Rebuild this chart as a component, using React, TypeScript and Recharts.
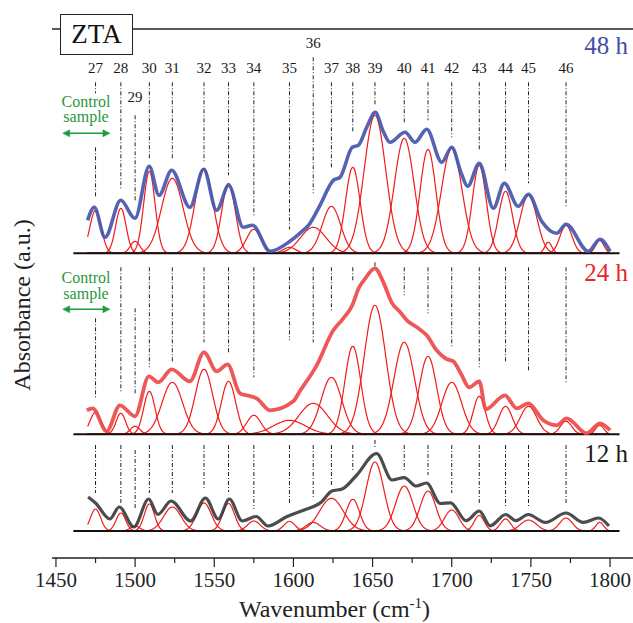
import React from "react";
import { ComposedChart, Line, XAxis, YAxis, ReferenceLine, ReferenceDot } from "recharts";

const SERIF = "Liberation Serif, Tinos, DejaVu Serif, serif";

// labelled amide bands (cm-1)
const BAND_LABELS = ["27", "28", "29", "30", "31", "32", "33", "34", "35", "36", "37", "38", "39", "40", "41", "42", "43", "44", "45", "46"];
const BAND_WN = [1475, 1491, 1500, 1509, 1523.5, 1543.5, 1559, 1575, 1597.5, 1612.5, 1624, 1637.5, 1651.5, 1670, 1685, 1700, 1717.4, 1734, 1748.5, 1772.2];
// weak unlabelled bands that are still part of the fit
const EXTRA_WN = [1761, 1793.5];

// gaussian components: amplitude (a.u.) and sigma (cm-1), order = BAND_WN + EXTRA_WN
const AMP_48H = [43, 45, 12, 82, 75, 85, 70, 24, 6, 26, 47, 86, 138, 115, 104, 105, 88, 62, 58, 28, 11, 13];
const SIG_48H = [3.6, 3.3, 3.0, 3.6, 6.8, 5.6, 4.3, 4.6, 4.0, 8.0, 5.8, 4.6, 6.8, 6.2, 5.0, 6.5, 4.4, 4.4, 5.3, 3.8, 2.2, 2.6];
const AMP_24H = [22, 21, 8, 43, 52, 65, 53, 19, 14, 31, 57, 88, 129, 92, 78, 52, 38, 28, 28, 13, 0, 9];
const SIG_24H = [3.5, 3.0, 3.0, 3.6, 6.5, 5.5, 4.5, 4.5, 10, 9, 6.5, 5.0, 6.8, 6.5, 5.5, 6.2, 3.8, 4.2, 5.2, 3.6, 2, 2.6];
const AMP_12H = [22, 18, 5, 27, 24, 28, 27.5, 10, 9.6, 8.6, 32.7, 31.7, 69, 45, 40, 21, 15.5, 12, 11, 13, 0, 8.6];
const SIG_12H = [3.2, 3.0, 3.0, 3.2, 5.5, 4.6, 3.8, 4.0, 3.5, 4.5, 7.5, 4.2, 5.6, 5.5, 5.0, 4.6, 3.2, 3.2, 5.0, 4.0, 2, 2.5];

// measured spectra [wavenumber, absorbance a.u.]
const SPEC_48H: [number, number][] = [
  [1470, 33], [1474.2, 46], [1481, 16], [1490.9, 53], [1499.9, 35], [1508.9, 87], [1515.1, 58], [1523.1, 83],
  [1534.6, 46], [1543.3, 84], [1551.5, 43], [1559.1, 68], [1568.3, 26], [1574.2, 28], [1585.2, 2], [1597.8, 12],
  [1604, 20], [1610, 29], [1616.8, 48], [1625.2, 73], [1629.4, 76], [1637.2, 106], [1641, 108], [1646.3, 126],
  [1651.7, 141], [1656.7, 122], [1661, 111], [1670.5, 121], [1676.8, 111], [1684.2, 124], [1693.7, 91], [1700, 106],
  [1706, 80], [1710, 67], [1717.4, 90], [1726.3, 45], [1733.2, 70], [1742, 47], [1748.4, 59], [1756.8, 32],
  [1766.3, 20], [1772.2, 29], [1786.3, 2], [1793.6, 14], [1800, 2],
];
const SPEC_24H: [number, number][] = [
  [1469.5, 24], [1473.2, 26], [1482, 3], [1490.4, 29], [1499.9, 18], [1508.7, 58], [1514.6, 52], [1523.1, 65],
  [1534.6, 53], [1543.5, 82], [1551.5, 63], [1558.4, 70], [1566.2, 41], [1570.4, 39], [1576.8, 36], [1585.2, 24],
  [1599.9, 33], [1604, 43], [1614.7, 69], [1625.2, 104], [1631, 115], [1637.2, 129], [1641.2, 146], [1645.4, 156],
  [1651.5, 166], [1656.8, 152], [1662, 132], [1667.5, 122], [1671.7, 114], [1678, 107], [1684.2, 99], [1690.5, 84],
  [1697, 75], [1701, 73], [1706, 60], [1711, 47], [1717.4, 53], [1721.5, 25], [1733.6, 39], [1741, 26],
  [1748.4, 31], [1757.8, 14], [1766.3, 9], [1772.6, 16], [1785.2, 1], [1793.6, 11], [1800, 4],
];
const SPEC_12H: [number, number][] = [
  [1470.3, 34], [1475.3, 27.5], [1484, 12], [1490, 24], [1499.2, 4], [1508.6, 32], [1514.4, 16.5], [1522.7, 30],
  [1535.1, 10], [1544.4, 33], [1552.5, 12], [1559.5, 32], [1567.7, 10], [1576.4, 14.5], [1584, 5], [1596, 14.5],
  [1606.8, 21], [1617.7, 29], [1624.3, 40], [1630.8, 42], [1639.5, 55], [1652.5, 77.5], [1662.3, 51], [1670, 53.4],
  [1677.5, 45], [1684.1, 48], [1692.8, 27.5], [1699.3, 28.2], [1709.1, 10.3], [1717.4, 20], [1724.3, 5.2], [1734.1, 16.5],
  [1740.6, 10.3], [1748.3, 16.5], [1759.2, 8.6], [1772.2, 18], [1783.1, 8.6], [1792.8, 13], [1799.3, 5],
];

const X_TICKS = [1450, 1475, 1500, 1525, 1550, 1575, 1600, 1625, 1650, 1675, 1700, 1725, 1750, 1775, 1800];

// ---- layout (y in a.u. above the bottom axis) ----
const X_DOMAIN: [number, number] = [1447.5, 1814.5];
const Y_MAX = 529;
const BASE_48 = 304.7;
const BASE_24 = 123.7;
const BASE_12 = 27;

// dash-dot guide lines: top / lower end above each panel baseline
const topFor = (dflt: number, over: Record<string, number>) => BAND_LABELS.map((l) => over[l] ?? dflt);
const GUIDE_TOP_48 = topFor(171, { "29": 138, "36": 196 });
const GUIDE_END_48 = [56, 65, 51, 95, 95, 90, 78, 36, 24, 60, 86, 121, 147, 131, 133, 116, 103, 83, 70, 45];
const GUIDE_TOP_24 = topFor(167, { "27": 116, "29": 126, "39": 172 });
const GUIDE_END_24 = [37, 42, 39, 67, 72, 92, 82, 57, 94, 92, 122, 152, 167, 139, 121, 87, 67, 72, 62, 51];
const GUIDE_TOP_12 = topFor(86, { "29": 81, "39": 91 });
const GUIDE_END_12 = [38, 28, 22, 38, 38, 41, 39, 22, 28, 34, 46, 61, 83, 59, 56, 38, 28, 23, 23, 26];
const LABEL_H = topFor(185, { "29": 156, "36": 210 });

const PANELS = [
  { key: "h48", base: BASE_48, amp: AMP_48H, sig: SIG_48H, spec: SPEC_48H, top: GUIDE_TOP_48, end: GUIDE_END_48,
    color: "#4756ad", lw: 3.6, name: "48 h", nameH: 208, ctrl: [152, 136.5, 120] },
  { key: "h24", base: BASE_24, amp: AMP_24H, sig: SIG_24H, spec: SPEC_24H, top: GUIDE_TOP_24, end: GUIDE_END_24,
    color: "#ee4a4a", lw: 3.8, name: "24 h", nameH: 162, ctrl: [156.5, 141, 125] },
  { key: "h12", base: BASE_12, amp: AMP_12H, sig: SIG_12H, spec: SPEC_12H, top: GUIDE_TOP_12, end: GUIDE_END_12,
    color: "#3d3d3d", lw: 3.2, name: "12 h", nameH: 78, ctrl: null as number[] | null },
];
const NAME_COLORS: Record<string, string> = { h48: "#3f4fa6", h24: "#e8262c", h12: "#1a1a1a" };

const CENTERS = [...BAND_WN, ...EXTRA_WN];
const GREEN = "#1f9a3c";

// component curves sampled on a 0.5 cm-1 grid
const grid: number[] = [];
for (let wn = 1470; wn <= 1800.001; wn += 0.5) grid.push(+wn.toFixed(1));

const rows = grid.map((wn) => {
  const row: Record<string, number> = { wn };
  PANELS.forEach((p) =>
    CENTERS.forEach((c, i) => {
      if (p.amp[i] > 0) row[`${p.key}_${i}`] = p.base + p.amp[i] * Math.exp(-((wn - c) ** 2) / (2 * p.sig[i] ** 2));
    })
  );
  return row;
});

const serifStyle = (size: number) => ({ fontFamily: SERIF, fontSize: size });

const AxisTick = (props: any) => {
  const { x, y, payload } = props;
  const major = payload.value % 50 === 0;
  return (
    <g>
      <line x1={x} x2={x} y1={y} y2={y + (major ? 9 : 5)} stroke="#222" strokeWidth={1.2} />
      {major && (
        <text x={x} y={y + 29} textAnchor="middle" style={serifStyle(21)} fill="#222">
          {payload.value}
        </text>
      )}
    </g>
  );
};

const textShape = (txt: string, size: number, fill: string, anchor = "middle") => (p: any) => (
  <text x={p.cx} y={p.cy} textAnchor={anchor} dominantBaseline="central" style={serifStyle(size)} fill={fill}>
    {txt}
  </text>
);

const arrowShape = (p: any) => {
  const { x1, y1, x2, y2 } = p;
  return (
    <g fill={GREEN} stroke={GREEN}>
      <line x1={x1 + 4} y1={y1} x2={x2 - 4} y2={y2} strokeWidth={1.4} />
      <path d={`M${x1},${y1} l7,-3.5 l0,7 z`} strokeWidth={0.5} />
      <path d={`M${x2},${y2} l-7,-3.5 l0,7 z`} strokeWidth={0.5} />
    </g>
  );
};

export default function App() {
  return (
    <div style={{ position: "absolute", left: 0, top: 0, width: 633, height: 623, background: "#fff" }}>
      <ComposedChart width={633} height={623} data={rows} margin={{ top: 29, right: 0, bottom: 0, left: 52 }}>
        <XAxis
          dataKey="wn"
          type="number"
          domain={X_DOMAIN}
          allowDataOverflow
          ticks={X_TICKS}
          interval={0}
          height={65}
          tickSize={0}
          tickMargin={0}
          tickLine={false}
          tick={AxisTick}
          axisLine={{ stroke: "#222", strokeWidth: 1.5 }}
          label={({ viewBox }: any) => (
            <text x={viewBox.x + viewBox.width / 2 - 8} y={viewBox.y + 59} textAnchor="middle" style={serifStyle(24)} fill="#222">
              Wavenumber (cm<tspan dy={-9} style={{ fontSize: 15 }}>-1</tspan>
              <tspan dy={9}>)</tspan>
            </text>
          )}
        />
        <YAxis
          type="number"
          domain={[0, Y_MAX]}
          allowDataOverflow
          width={0}
          tick={false}
          tickLine={false}
          axisLine={{ stroke: "#222", strokeWidth: 1.5 }}
        />
        <ReferenceLine y={Y_MAX} stroke="#222" strokeWidth={1.5} />

        {/* fitted components */}
        {PANELS.flatMap((p) =>
          CENTERS.map((c, i) =>
            p.amp[i] > 0 ? (
              <Line
                key={`${p.key}_${i}`}
                dataKey={`${p.key}_${i}`}
                type="monotone"
                dot={false}
                stroke="#f01c1c"
                strokeWidth={1.2}
                isAnimationActive={false}
              />
            ) : null
          )
        )}

        {/* panel baselines */}
        {PANELS.map((p) => (
          <ReferenceLine
            key={`base-${p.key}`}
            segment={[{ x: 1461, y: p.base }, { x: 1806, y: p.base }]}
            stroke="#111"
            strokeWidth={2}
          />
        ))}

        {/* measured spectra */}
        {PANELS.map((p) => (
          <Line
            key={`spec-${p.key}`}
            data={p.spec.map(([wn, a]) => ({ wn, v: p.base + a }))}
            dataKey="v"
            type="monotone"
            dot={false}
            stroke={p.color}
            strokeWidth={p.lw}
            strokeOpacity={0.92}
            isAnimationActive={false}
          />
        ))}

        {/* band guides */}
        {PANELS.flatMap((p) =>
          BAND_WN.map((wn, i) => {
            const segs: [number, number][] =
              p.key === "h48" && BAND_LABELS[i] === "27"
                ? [[p.top[i], 160], [106, p.end[i]]]
                : [[p.top[i], p.end[i]]];
            return segs.map(([a, b], k) => (
              <ReferenceLine
                key={`g-${p.key}-${i}-${k}`}
                segment={[{ x: wn, y: p.base + a }, { x: wn, y: p.base + b }]}
                stroke="#222"
                strokeWidth={1}
                strokeDasharray="4 2 1 2"
              />
            ));
          })
        )}

        {/* band numbers */}
        {BAND_WN.map((wn, i) => (
          <ReferenceDot key={`n-${i}`} x={wn} y={BASE_48 + LABEL_H[i]} r={0} shape={textShape(BAND_LABELS[i], 15, "#1a1a1a")} />
        ))}

        {/* time labels */}
        {PANELS.map((p) => (
          <ReferenceDot key={`t-${p.key}`} x={1811.3} y={p.base + p.nameH} r={0} shape={textShape(p.name, 25, NAME_COLORS[p.key], "end")} />
        ))}

        {/* control sample range */}
        {PANELS.filter((p) => p.ctrl).map((p) => [
          <ReferenceDot key={`c1-${p.key}`} x={1469} y={p.base + p.ctrl![0]} r={0} shape={textShape("Control", 16, GREEN)} />,
          <ReferenceDot key={`c2-${p.key}`} x={1469} y={p.base + p.ctrl![1]} r={0} shape={textShape("sample", 16, GREEN)} />,
          <ReferenceLine
            key={`ca-${p.key}`}
            segment={[{ x: 1454.3, y: p.base + p.ctrl![2] }, { x: 1484.1, y: p.base + p.ctrl![2] }]}
            shape={arrowShape}
          />,
        ])}
      </ComposedChart>
      <svg width={40} height={623} style={{ position: "absolute", left: 0, top: 0, pointerEvents: "none" }}>
        <text transform="translate(30,305) rotate(-90)" textAnchor="middle" style={serifStyle(24)} fill="#222">
          Absorbance (a.u.)
        </text>
      </svg>
      <div
        style={{
          position: "absolute",
          left: 60,
          top: 14,
          width: 73,
          height: 41,
          boxSizing: "border-box",
          border: "1.5px solid #222",
          background: "#fff",
          display: "flex",
          alignItems: "center",
          justifyContent: "center",
          fontFamily: SERIF,
          fontSize: 27,
          color: "#111",
        }}
      >
        ZTA
      </div>
    </div>
  );
}
